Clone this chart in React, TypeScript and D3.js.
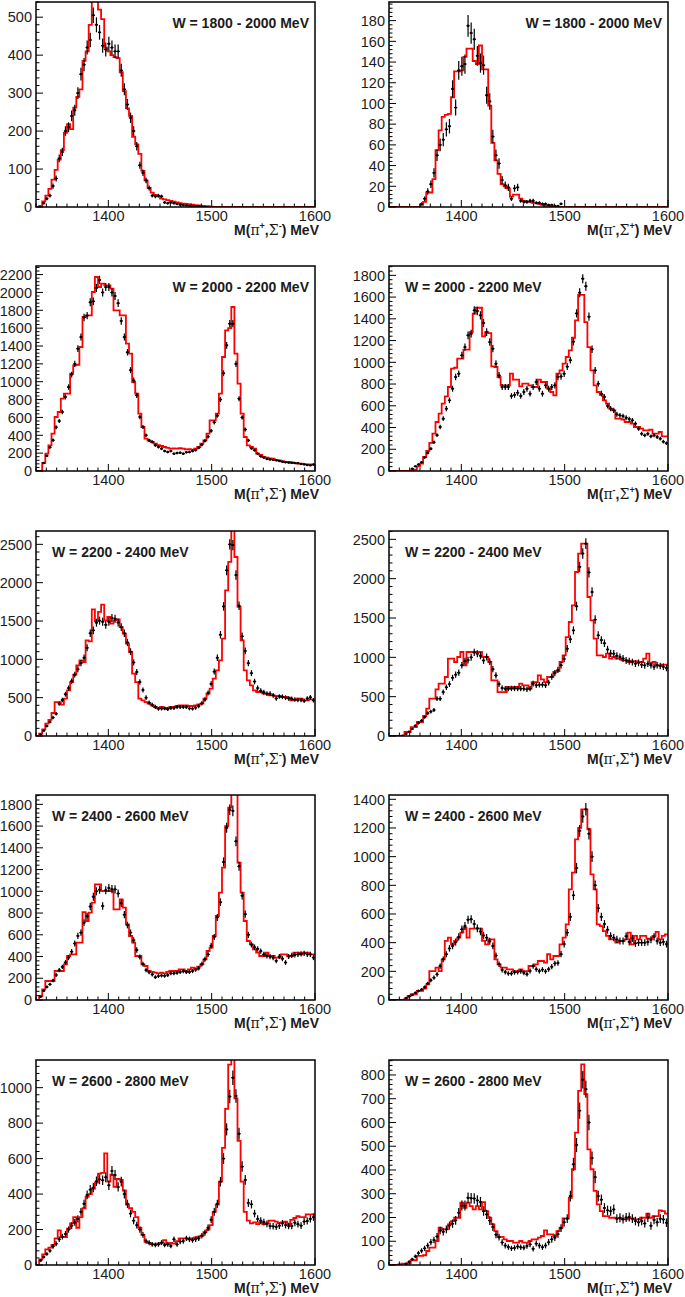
import React from 'react';
import * as d3 from 'd3';

// ---------- binning (3 MeV bins from 1330 to 1600 MeV) ----------
const M_LO = 1330;
const M_HI = 1600;
const BIN_W = 3;

// ---------- panel labels ----------
const wRanges = ['1800 - 2000', '2000 - 2200', '2200 - 2400', '2400 - 2600', '2600 - 2800'];

// y-axis ranges / major tick steps (left: pi+ Sigma-, right: pi- Sigma+)
const yMaxLeft = [540, 2296, 2674, 1886, 1156];
const yStepLeft = [100, 200, 500, 200, 200];
const yMaxRight = [198, 1886, 2606, 1430, 863];
const yStepRight = [20, 200, 500, 200, 100];

// statistical error scale (err = k * sqrt(N))
const errKLeft = [0.9, 1.0, 1.35, 1.17, 1.25];
const errKRight = [0.79, 1.0, 1.4, 1.2, 1.33];

// ---------- W = 1800-2000 ----------
const fitL1 = [0,3,15,30,48,72,98,125,150,195, 218,205,262,290,310,385,410,480,560,560, 520,495,420,410,400,395,392,355,305,260, 240,185,165,140,95,70,50,38,32,28, 22,20,18,16,14,12,10,9,8,7, 6,5,4,3,2,2,1,0,0,0, 0,0,0,0,0,0,0,0,0,0, 0,0,0,0,0,0,0,0,0,0, 0,0,0,0,0,0,0,0,0,0];
const datL1 = [0,0,10,22,30,55,75,128,145,200, 210,240,255,300,350,375,420,440,505,480, 460,425,415,430,420,410,410,360,310,270, 235,200,160,110,90,70,50,30,28,30, 28,12,10,12,10,8,6,5,4,3, 2,2,2,1,1,0,0,0,0,0, 0,0,0,0,0,0,0,0,0,0, 0,0,0,0,0,0,0,0,0,0, 0,0,0,0,0,0,0,0,0,0];
const fitR1 = [0,0,0,0,0,0,0,0,0,0, 2,5,14,14,27,55,74,87,89,90, 106,131,131,132,145,153,153,141,138,156, 133,133,98,62,45,32,22,20,18,10, 12,12,8,6,5,5,4,4,3,2, 1,1,0,0,0,0,0,0,0,0, 0,0,0,0,0,0,0,0,0,0, 0,0,0,0,0,0,0,0,0,0, 0,0,0,0,0,0,0,0,0,0];
const datR1 = [0,0,0,0,0,0,0,0,0,0, 3,8,15,22,33,50,60,65,75,78, 114,96,132,136,138,175,168,162,146,139, 137,108,102,68,50,42,26,21,19,8, 18,19,6,5,5,6,6,4,4,3, 3,2,2,1,1,3,0,0,0,0, 0,0,0,0,0,0,0,0,0,0, 0,0,0,0,0,0,0,0,0,0, 0,0,0,0,0,0,0,0,0,0];

// ---------- W = 2000-2200 ----------
const fitL2 = [0,0,90,194,288,418,605,661,810,866, 866,1090,1184,1190,1389,1725,1744,1744,2005,2173, 2061,2098,2080,2080,2043,1800,1800,1744,1744,1426, 1314,997,866,642,493,362,340,325,306,290, 280,269,260,250,252,250,255,250,243,245, 239,250,269,306,344,418,568,568,642,866, 1277,1576,1600,1837,1314,978,642,381,288,270, 250,194,180,157,150,140,138,125,119,110, 101,101,95,88,82,82,78,75,75,75];
const datL2 = [0,0,90,170,265,345,490,560,660,830, 940,1080,1200,1370,1500,1720,1740,1890,1900,2050, 2140,2000,2060,2060,2000,1960,1880,1680,1500,1330, 1130,1015,848,605,493,400,343,325,288,269, 250,224,213,224,194,201,205,194,210,213, 224,235,260,295,338,385,450,545,620,800, 1095,1408,1650,1650,1200,810,600,465,343,255, 233,195,165,150,135,129,125,120,112,103, 98,94,92,90,88,79,74,67,63,72];
const fitR2 = [0,0,0,0,0,0,0,5,12,43, 67,129,184,258,343,451,527,619,687,773, 941,950,1033,1033,1116,1116,1278,1447,1502,1502, 1239,1278,1269,963,957,865,788,788,788,895, 840,840,779,803,803,788,773,773,840,819, 819,757,727,696,895,926,987,1049,1110,1226, 1386,1620,1620,1370,1140,926,788,727,700,650, 619,573,558,481,481,472,451,451,435,405, 405,389,374,374,380,343,343,359,319,319];
const datR2 = [0,0,0,0,0,0,0,21,43,60, 80,125,166,205,265,330,405,481,573,650, 757,865,895,1064,1140,1248,1263,1478,1472,1432, 1362,1278,1186,1125,987,880,773,773,773,690, 700,720,690,727,757,711,773,819,757,711, 788,757,773,788,865,870,895,960,1020,1190, 1450,1640,1769,1700,1420,1120,926,803,711,681, 600,573,558,521,512,505,490,478,466,435, 389,343,328,343,319,328,313,297,270,255];

// ---------- W = 2200-2400 ----------
const fitL3 = [0,30,87,161,210,300,443,443,409,487, 596,704,800,922,987,965,1248,1235,1652,1500, 1620,1713,1509,1552,1465,1509,1522,1420,1335,1204, 1096,813,704,487,465,443,422,400,378,365, 378,357,365,378,378,391,400,400,400,391, 391,400,413,422,487,552,617,748,857,987, 1270,1900,2270,2800,2335,1683,1248,857,726,661, 596,574,574,552,552,530,530,522,522,509, 509,500,465,470,487,487,465,465,478,478];
const datL3 = [0,20,70,130,183,240,290,422,470,545, 625,715,800,870,950,1020,1150,1340,1378,1478, 1505,1490,1450,1490,1540,1530,1480,1420,1340,1220, 1100,960,835,705,600,500,435,405,380,355, 358,360,350,365,365,378,378,378,378,360, 357,370,390,425,475,560,680,840,1020,1320, 1690,2161,2500,2490,2100,1700,1300,1110,950,820, 710,625,590,570,552,552,531,490,515,512, 500,490,487,475,470,470,460,490,505,465];
const fitR3 = [0,0,0,0,5,51,51,114,114,178, 178,254,347,475,475,593,665,665,750,983, 983,941,1004,1068,898,1068,1068,1065,1068,1068, 1004,1004,941,708,708,559,559,559,623,602, 623,623,665,644,644,602,686,686,771,720, 686,750,750,814,826,941,1025,1258,1449,1661, 2085,2318,2445,2445,1767,1470,1237,1025,1025,1004, 1047,983,1004,983,983,962,962,941,950,950, 941,941,983,1047,920,941,898,898,907,907];
const datR3 = [0,0,0,0,5,28,55,90,130,165, 195,240,290,310,330,475,475,559,620,660, 740,780,805,900,950,965,1000,1062,1045,1020, 960,1004,945,850,770,660,610,602,602,605, 605,602,602,602,593,602,665,645,652,652, 646,680,755,800,840,900,980,1110,1230,1343, 1650,2150,2320,2445,2080,1830,1480,1280,1220,1180, 1100,1050,1047,1020,1004,985,960,950,940,920, 930,907,898,918,900,880,900,890,880,864];

// ---------- W = 2400-2600 ----------
const fitL4 = [0,37,98,175,175,175,267,267,267,328, 405,420,420,527,527,809,727,803,895,1064, 1064,1003,1003,1003,1003,834,834,926,849,696, 589,527,405,405,328,313,267,258,251,245, 251,245,258,267,267,267,282,282,267,282, 297,282,307,328,374,451,481,589,773,987, 1217,1600,1769,1950,1950,1263,987,727,543,512, 466,435,405,405,435,405,405,389,389,420, 420,405,405,435,435,420,435,435,420,420];
const datL4 = [0,30,85,120,144,180,230,275,305,345, 390,445,520,590,620,711,770,860,950,1000, 1015,865,1010,1030,1020,1018,980,890,785,690, 620,550,460,395,330,275,255,235,210,220, 225,222,230,245,245,251,258,265,258,258, 266,280,292,330,375,420,500,580,760,900, 1270,1585,1750,1740,1460,1230,960,790,600,510, 485,470,450,420,405,399,389,360,400,380, 345,400,410,415,420,425,429,420,420,390];
const fitR4 = [0,0,0,0,0,10,28,40,40,63, 63,79,109,202,202,226,202,284,412,435, 388,412,435,470,505,435,498,498,498,498, 412,388,423,423,284,249,226,226,214,214, 202,202,214,202,202,237,237,249,272,272, 261,319,284,307,307,388,435,528,772,889, 1121,1200,1330,1330,1191,877,772,528,516,481, 447,423,423,400,412,412,423,470,388,447, 423,447,447,428,428,447,475,423,447,458];
const datR4 = [0,0,0,0,0,14,25,35,50,63, 72,90,115,138,156,179,237,284,319,360, 377,405,440,493,516,560,563,530,500,478, 450,435,410,377,310,250,210,195,185,185, 193,195,200,190,180,202,237,214,202,212, 200,215,232,255,258,320,390,470,580,730, 920,1180,1280,1330,1160,1000,800,640,580,530, 490,447,435,423,412,412,445,405,430,395, 400,400,400,405,420,440,412,400,405,390];

// ---------- W = 2600-2800 ----------
const fitL5 = [0,32,60,88,98,113,150,195,158,158, 205,235,270,210,270,320,385,400,430,465, 515,520,630,470,510,440,485,480,420,340, 320,300,270,210,170,130,125,118,118,120, 125,140,118,125,120,135,150,150,150,145, 150,155,160,165,185,200,225,300,340,470, 660,880,1130,1200,940,700,470,300,250,235, 240,230,240,230,235,250,250,245,235,240, 245,230,255,265,275,270,270,285,285,285];
const datL5 = [0,25,45,62,80,105,120,145,160,175, 200,222,240,260,300,345,395,425,436,472, 483,478,495,450,530,507,440,470,400,345, 290,250,225,200,170,135,126,116,113,116, 126,113,116,107,145,116,132,135,150,145, 140,145,150,165,182,210,255,300,345,470, 600,765,950,1056,953,740,555,480,350,342, 290,260,250,242,232,220,218,215,222,235, 225,220,220,238,230,222,245,248,260,270];
const fitR5 = [0,0,0,3,6,6,8,20,20,38, 38,41,59,73,73,101,157,150,150,171, 185,199,199,262,241,262,248,234,248,234, 265,227,199,171,143,118,118,108,101,101, 94,94,101,94,94,101,108,108,115,122, 146,129,129,122,143,157,196,196,283,403, 557,733,845,719,487,403,312,255,227,206, 206,199,199,196,196,192,192,196,196,192, 192,199,199,216,199,206,206,230,227,216];
const datR5 = [0,0,0,0,0,5,14,24,36,50, 60,70,82,96,105,120,145,140,150,166, 174,188,220,250,250,283,281,280,272,265, 227,213,187,160,128,117,95,82,76,70, 72,78,75,73,80,87,68,90,82,75, 82,96,108,115,130,155,180,195,290,424, 505,650,780,740,600,450,370,290,275,240, 230,227,234,195,199,193,200,202,195,185, 180,185,175,200,165,190,180,195,192,178];

const xMajorTicks = [1400, 1500, 1600];

const fitsLeft = [fitL1, fitL2, fitL3, fitL4, fitL5];
const datsLeft = [datL1, datL2, datL3, datL4, datL5];
const fitsRight = [fitR1, fitR2, fitR3, fitR4, fitR5];
const datsRight = [datR1, datR2, datR3, datR4, datR5];

// ---------- layout ----------
const ROW_TOPS = [2, 266, 531, 795, 1060];
const PH = 205;
const PW = 279;
const COL_X = [36, 389];
const FONT = '"Liberation Sans", Arial, Helvetica, sans-serif';
const TXT = '#1c1c1c';

type PanelProps = {
  id: string; x0: number; y0: number; yMax: number; yStep: number;
  fit: number[]; dat: number[]; errK: number; label: string;
  labelRight: boolean; right: boolean;
};

function Panel(p: PanelProps) {
  const { x0, y0, yMax, yStep, fit, dat, errK, label, labelRight, right, id } = p;
  const xs = d3.scaleLinear().domain([M_LO, M_HI]).range([x0, x0 + PW]);
  const ys = d3.scaleLinear().domain([0, yMax]).range([y0 + PH, y0]);
  const edges = fit.map((_, i) => M_LO + i * BIN_W);
  const stepPts: [number, number][] = fit.map((v, i) => [edges[i], v] as [number, number]);
  stepPts.push([M_HI, fit[fit.length - 1]]);
  const line = d3.line<[number, number]>()
    .x(d => xs(d[0]))
    .y(d => ys(d[1]))
    .curve(d3.curveStepAfter);
  const path = line(stepPts) || '';

  const yMajors = d3.range(0, yMax + 1e-6, yStep);
  const yMinorStep = yStep / 5;
  const yMinors = d3.range(0, yMax + 1e-6, yMinorStep).filter(v => Math.abs(v / yStep - Math.round(v / yStep)) > 1e-6);
  const xMinors = d3.range(M_LO, M_HI + 1e-6, 10).filter(v => !xMajorTicks.includes(v));
  const bottom = y0 + PH;
  const clipId = `clip-${id}`;

  return (
    <g>
      <defs>
        <clipPath id={clipId}>
          <rect x={x0} y={y0} width={PW} height={PH} />
        </clipPath>
      </defs>
      <rect x={x0} y={y0} width={PW} height={PH} fill="#fff" />
      <g clipPath={`url(#${clipId})`}>
        <path d={path} fill="none" stroke="#ff0000" strokeWidth={1.8} />
        {dat.map((v, i) => {
          if (v <= 0) return null;
          const cx = xs(edges[i] + BIN_W / 2);
          const cy = ys(v);
          const e = errK * Math.sqrt(v);
          return (
            <g key={i}>
              <line x1={cx} x2={cx} y1={ys(v - e)} y2={ys(v + e)} stroke="#000" strokeWidth={1.2} />
              <line x1={cx - 1.6} x2={cx + 1.6} y1={cy} y2={cy} stroke="#000" strokeWidth={1.2} />
              <circle cx={cx} cy={cy} r={1.2} fill="#000" />
            </g>
          );
        })}
      </g>
      <rect x={x0} y={y0} width={PW} height={PH} fill="none" stroke="#000" strokeWidth={1.5} />
      {/* x ticks */}
      {xMajorTicks.map(t => (
        <line key={'xM' + t} x1={xs(t)} x2={xs(t)} y1={bottom} y2={bottom - 7} stroke="#000" strokeWidth={1} />
      ))}
      {xMinors.map(t => (
        <line key={'xm' + t} x1={xs(t)} x2={xs(t)} y1={bottom} y2={bottom - 3.5} stroke="#000" strokeWidth={1} />
      ))}
      {xMajorTicks.map(t => (
        <text key={'xl' + t} x={xs(t)} y={bottom + 13.5} textAnchor="middle" fontFamily={FONT} fontSize={14.5} fill={TXT}>{t}</text>
      ))}
      {/* y ticks */}
      {yMajors.map(t => (
        <line key={'yM' + t} x1={x0} x2={x0 + 7} y1={ys(t)} y2={ys(t)} stroke="#000" strokeWidth={1} />
      ))}
      {yMinors.map(t => (
        <line key={'ym' + t} x1={x0} x2={x0 + 3.5} y1={ys(t)} y2={ys(t)} stroke="#000" strokeWidth={1} />
      ))}
      {yMajors.map(t => (
        <text key={'yl' + t} x={x0 - 4} y={ys(t)} dy="0.36em" textAnchor="end" fontFamily={FONT} fontSize={14.5} fill={TXT}>{t}</text>
      ))}
      {/* W label */}
      <text x={labelRight ? x0 + PW - 6 : x0 + 16} y={y0 + 26} textAnchor={labelRight ? 'end' : 'start'}
        fontFamily={FONT} fontSize={14} fontWeight="bold" fill={TXT}>{`W = ${label} MeV`}</text>
      {/* axis title */}
      <text x={x0 + PW + 4} y={bottom + 27.5} textAnchor="end" fontFamily={FONT} fontSize={14} fontWeight="bold" fill={TXT}>
        <tspan>M(</tspan>
        <tspan fontFamily='"DejaVu Serif", serif' fontWeight="normal">π</tspan>
        <tspan fontSize={9} dy={-6}>{right ? '-' : '+'}</tspan>
        <tspan dy={6}>,</tspan>
        <tspan fontFamily='"DejaVu Serif", serif' fontWeight="normal">Σ</tspan>
        <tspan fontSize={9} dy={-6}>{right ? '+' : '-'}</tspan>
        <tspan dy={6}>) MeV</tspan>
      </text>
    </g>
  );
}

export default function App() {
  return (
    <div style={{ position: 'absolute', left: 0, top: 0 }}>
      <svg width={685} height={1297} style={{ display: 'block', background: '#fff' }}>
        <rect x={0} y={0} width={685} height={1297} fill="#fff" />
        {ROW_TOPS.map((top, r) => (
          <g key={r}>
            <Panel id={`L${r}`} x0={COL_X[0]} y0={top} yMax={yMaxLeft[r]} yStep={yStepLeft[r]}
              fit={fitsLeft[r]} dat={datsLeft[r]} errK={errKLeft[r]} label={wRanges[r]}
              labelRight={r < 2} right={false} />
            <Panel id={`R${r}`} x0={COL_X[1]} y0={top} yMax={yMaxRight[r]} yStep={yStepRight[r]}
              fit={fitsRight[r]} dat={datsRight[r]} errK={errKRight[r]} label={wRanges[r]}
              labelRight={r < 1} right={true} />
          </g>
        ))}
      </svg>
    </div>
  );
}
